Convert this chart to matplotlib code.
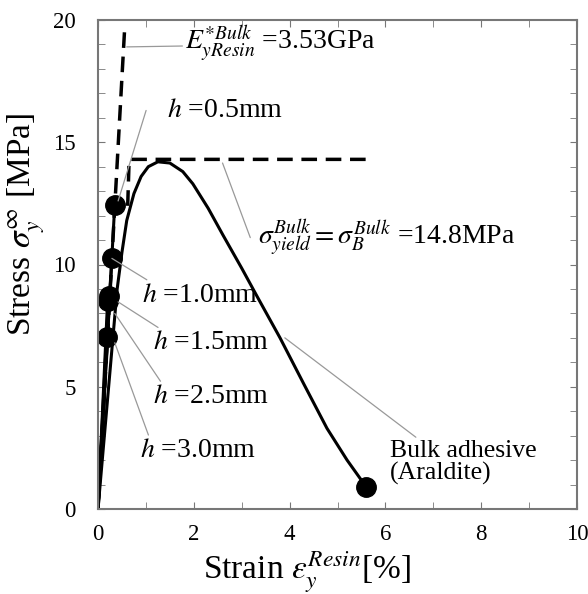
import matplotlib
matplotlib.use("Agg")
import matplotlib.pyplot as plt
from matplotlib.ticker import MultipleLocator

plt.rcParams["font.family"] = ["Liberation Serif", "DejaVu Serif"]
plt.rcParams["mathtext.fontset"] = "stix"

# bulk adhesive (Araldite) stress-strain curve
bulk_strain = [0, 0.2, 0.4, 0.5, 0.6, 0.75, 0.9, 1.05, 1.25, 1.5, 1.77, 1.98,
               2.3, 2.61, 3.0, 3.32, 3.8, 4.3, 4.78, 5.2, 5.6]
bulk_stress = [0, 4.5, 9.0, 10.5, 11.8, 12.9, 13.6, 14.0, 14.2, 14.15, 13.8, 13.3,
               12.3, 11.2, 9.85, 8.7, 7.0, 5.1, 3.3, 2.0, 0.9]

# apparent yield points for different bond thickness h
h_labels = ["0.5", "1.0", "1.5", "2.5", "3.0"]
h_strain = [0.35, 0.29, 0.22, 0.20, 0.19]
h_stress = [12.45, 10.25, 8.7, 8.5, 7.05]

# reference lines
modulus_strain = [0, 0.555]
modulus_stress = [0, 19.6]
yield_strain = [0.62, 0.65, 5.6]
yield_stress = [12.4, 14.3, 14.3]

fig = plt.figure(figsize=(5.88, 5.94), dpi=100)
ax = fig.add_axes([98 / 588, 85 / 594, 479 / 588, 489 / 594])

ax.plot(modulus_strain, modulus_stress, "k--", lw=2.5, dashes=(4.5, 2.5))
ax.plot(yield_strain, yield_stress, "k--", lw=2.5, dashes=(4.5, 2.5))
for x, y in zip(h_strain, h_stress):
    ax.plot([0, x], [0, y], "k-", lw=2.2)
ax.plot(h_strain, h_stress, "o", color="k", ms=14, ls="none")
ax.plot(bulk_strain, bulk_stress, "k-", lw=2.2)
ax.plot(bulk_strain[-1], bulk_stress[-1], "o", color="k", ms=14)

lead = dict(arrowstyle="-", color="#999999", lw=0.9, shrinkA=0, shrinkB=0)
fs = 20
ax.annotate(r"$E^{*Bulk}_{yResin}$ =3.53GPa", xy=(0.6, 18.9), xytext=(1.82, 19.0),
            fontsize=fs, va="center", arrowprops=lead)
ax.annotate(r"$h$ =0.5mm", xy=(0.42, 12.6), xytext=(1.44, 16.3),
            fontsize=fs, va="center", arrowprops=dict(lead, relpos=(-0.18, 0.5)))
ax.annotate(r"$\sigma^{Bulk}_{yield}=\sigma^{Bulk}_{B}$ =14.8MPa", xy=(2.6, 14.15),
            xytext=(3.34, 11.1), fontsize=fs, va="center",
            arrowprops=dict(lead, relpos=(-0.03, 0.5)))
text_pos = [(0.92, 8.75), (1.15, 6.8), (1.15, 4.6), (0.88, 2.4)]
anchor_pos = [(0.29, 10.25), (0.42, 8.47), (0.35, 8.0), (0.35, 6.8)]
for lab, (tx, ty), (px, py) in zip(h_labels[1:], text_pos, anchor_pos):
    ax.annotate(r"$h$ =" + lab + "mm", xy=(px, py), xytext=(tx, ty),
                fontsize=fs, va="center",
                arrowprops=dict(lead, relpos=(0.08, 1.0)))
ax.annotate("Bulk adhesive\n(Araldite)", xy=(3.9, 7.0), xytext=(6.1, 1.9),
            fontsize=18.5, va="center", linespacing=1.0,
            arrowprops=dict(lead, relpos=(0.2, 1.0)))

ax.set_xlim(0, 10)
ax.set_ylim(0, 20)
ax.xaxis.set_major_locator(MultipleLocator(2))
ax.xaxis.set_minor_locator(MultipleLocator(1))
ax.yaxis.set_major_locator(MultipleLocator(5))
ax.yaxis.set_minor_locator(MultipleLocator(1))
ax.tick_params(which="both", direction="in", top=True, right=True,
               color="#777777", length=5, labelsize=16.5)
ax.tick_params(axis="y", pad=16)
ax.tick_params(axis="x", pad=11)
for s in ax.spines.values():
    s.set_color("#777777")
    s.set_linewidth(1.5)

ax.set_xlabel(r"Strain $\varepsilon_y^{Resin}$[%]", fontsize=24)
ax.xaxis.set_label_coords(0.437, -0.082)
ax.set_ylabel(r"Stress $\sigma_y^{\infty}$ [MPa]", fontsize=24)
ax.yaxis.set_label_coords(-0.106, 0.581)

fig.savefig("out.png", dpi=100)
